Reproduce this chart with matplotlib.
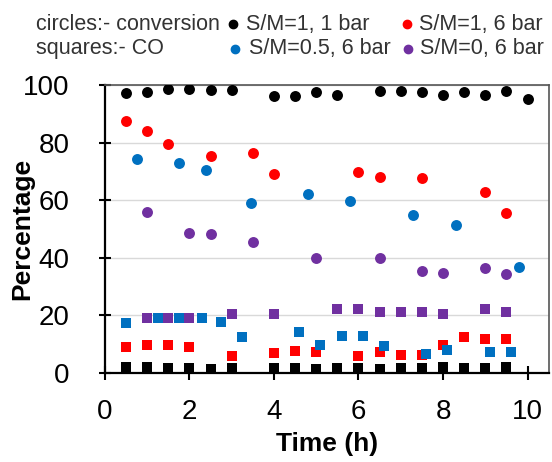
import matplotlib
matplotlib.use("Agg")
import matplotlib.pyplot as plt
from matplotlib.lines import Line2D

plt.rcParams['font.family'] = ['Liberation Sans', 'DejaVu Sans']

# conversion (circles)
t_c1 = [0.5, 1, 1.5, 2, 2.5, 3, 4, 4.5, 5, 5.5, 6.5, 7, 7.5, 8, 8.5, 9, 9.5, 10]
conv_1bar = [97.2, 97.7, 98.6, 98.6, 98.3, 98.3, 96.3, 96.3, 97.4, 96.5, 97.9, 97.9, 97.6, 96.4, 97.7, 96.6, 98.0, 95.0]
t_c2 = [0.5, 1, 1.5, 2.5, 3.5, 4, 6, 6.5, 7.5, 9, 9.5]
conv_sm1 = [87.6, 84.0, 79.5, 75.3, 76.4, 69.0, 69.8, 68.1, 67.8, 62.8, 55.7]
t_c3 = [0.75, 1.75, 2.4, 3.45, 4.8, 5.8, 7.3, 8.3, 9.8]
conv_sm05 = [74.2, 72.8, 70.5, 59.1, 62.0, 59.7, 54.9, 51.3, 36.9]
t_c4 = [1, 2, 2.5, 3.5, 5, 6.5, 7.5, 8, 9, 9.5]
conv_sm0 = [56.0, 48.5, 48.3, 45.5, 40.0, 39.8, 35.4, 34.8, 36.3, 34.4]

# CO (squares)
t_s1 = [0.5, 1, 1.5, 2, 2.5, 3, 4, 4.5, 5, 5.5, 6, 6.5, 7, 7.5, 8, 8.5, 9, 9.5]
co_1bar = [2.0, 2.0, 1.8, 1.8, 1.5, 1.8, 1.8, 1.8, 1.5, 1.8, 1.8, 1.5, 1.8, 1.8, 2.2, 1.8, 1.8, 2.0]
t_s2 = [0.5, 1, 1.5, 2, 3, 4, 4.5, 5, 6, 6.5, 7, 7.5, 8, 8.5, 9, 9.5]
co_sm1 = [9.0, 9.6, 9.7, 9.0, 5.9, 6.8, 7.6, 7.1, 6.0, 7.3, 6.3, 6.3, 9.7, 12.4, 11.9, 11.9]
t_s3 = [0.5, 1.25, 1.75, 2.3, 2.75, 3.25, 4.6, 5.1, 5.6, 6.1, 6.6, 7.6, 8.1, 9.1, 9.6]
co_sm05 = [17.4, 19.2, 19.2, 19.2, 17.5, 12.4, 14.3, 9.7, 12.8, 12.8, 9.4, 6.4, 8.0, 7.1, 7.3]
t_s4 = [1, 1.5, 2, 3, 4, 5.5, 6, 6.5, 7, 7.5, 8, 9, 9.5]
co_sm0 = [19.2, 19.2, 19.2, 20.3, 20.3, 22.1, 22.1, 21.2, 21.2, 21.2, 20.6, 22.1, 21.2]

labels = ['S/M=1, 1 bar', 'S/M=1, 6 bar', 'S/M=0.5, 6 bar', 'S/M=0, 6 bar']
colors = ['#000000', '#FF0000', '#0070C0', '#7030A0']

fig = plt.figure(figsize=(5.52, 4.62), dpi=100)
ax = fig.add_axes([0.190, 0.193, 0.804, 0.623])

circles = [(t_c1, conv_1bar), (t_c2, conv_sm1), (t_c3, conv_sm05), (t_c4, conv_sm0)]
squares = [(t_s1, co_1bar), (t_s2, co_sm1), (t_s4, co_sm0), (t_s3, co_sm05)]
sq_colors = [colors[0], colors[1], colors[3], colors[2]]

for (t, v), c in zip(circles, colors):
    ax.scatter(t, v, s=62, marker='o', color=c, zorder=3, linewidths=0)
for (t, v), c in zip(squares, sq_colors):
    ax.scatter(t, v, s=55, marker='s', color=c, zorder=3, linewidths=0)

ax.set_xlim(0, 10.5)
ax.set_ylim(0, 100)
ax.set_xticks([0, 2, 4, 6, 8, 10])
ax.set_yticks([0, 20, 40, 60, 80, 100])
ax.grid(axis='y', color='#d9d9d9', lw=1)
ax.set_axisbelow(True)
for s in ['left', 'bottom']:
    ax.spines[s].set_linewidth(1.6)
    ax.spines[s].set_color('black')
for s in ['top', 'right']:
    ax.spines[s].set_linewidth(1.2)
    ax.spines[s].set_color('#555555')
ax.spines['bottom'].set_zorder(4)
ax.tick_params(axis='x', direction='inout', length=10, width=1.5, labelsize=20, pad=14)
ax.tick_params(axis='y', direction='inout', length=9, width=1.5, labelsize=20, pad=21)
ax.set_xlabel('Time (h)', fontsize=19, fontweight='bold', labelpad=5)
ax.set_ylabel('Percentage', fontsize=19, fontweight='bold', labelpad=-8)

# header key: two free-text lines plus coloured dots
txt = '#333333'
fig.text(0.066, 0.948, 'circles:- conversion', fontsize=15.5, color=txt, va='center')
fig.text(0.066, 0.895, 'squares:- CO', fontsize=15.5, color=txt, va='center')
dot_pos = [(0.422, 0.948), (0.737, 0.948), (0.426, 0.895), (0.739, 0.895)]
text_x = [0.445, 0.759, 0.451, 0.761]
for (x, y), tx, lab, c in zip(dot_pos, text_x, labels, colors):
    fig.add_artist(Line2D([x], [y], transform=fig.transFigure, marker='o', ls='',
                          color=c, markersize=6))
    fig.text(tx, y, lab, fontsize=15.5, color=txt, va='center')

fig.savefig('out.png', dpi=100)
